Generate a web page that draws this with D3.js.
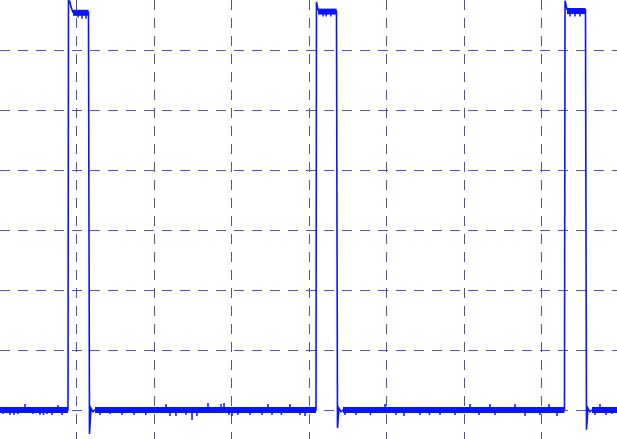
<!DOCTYPE html>
<html><head><meta charset="utf-8">
<script src="https://cdn.jsdelivr.net/npm/d3@7"></script>
<style>html,body{margin:0;padding:0;background:#fff;overflow:hidden}</style>
</head><body>
<svg id="c" width="617" height="439"></svg>
<script>
// time in divisions, voltage in divisions (1 V/div)
const timeTicks = [0,1,2,3,4,5,6,7,8];
const voltTicks = [-1,0,1,2,3,4,5,6,7];

// main waveform [t, v]
const traceT = [0,0.897,0.903,0.923,0.935,0.961,1.161,1.174,1.194,1.219,1.245,
  4.097,4.103,4.123,4.361,4.374,4.394,4.419,4.445,
  7.303,7.310,7.335,7.574,7.587,7.606,7.632,7.658,8.0];
const traceV = [0,0,6.83,6.80,6.72,6.63,6.63,-0.40,0.03,-0.03,0,
  0,6.80,6.67,6.65,-0.30,0.03,-0.03,0,
  0,6.82,6.68,6.67,-0.33,0.03,-0.03,0,0];

// noisy plateaus [t0, t1, level]
const plateauStart = [0,1.245,4.445,7.658,0.961,4.123,7.335];
const plateauEnd   = [0.897,4.097,7.303,8.0,1.161,4.361,7.574];
const plateauLevel = [0,0,0,0,6.62,6.64,6.65];

// glitches [t, v]
const spikeT = [0.058,0.148,0.200,0.252,0.342,0.445,0.535,0.580,0.626,0.690,0.768,0.819,
  1.310,1.439,1.594,1.750,1.900,2.161,2.213,2.290,2.419,2.497,2.561,2.703,2.871,2.910,2.974,3.013,3.090,3.245,3.400,3.477,3.529,3.650,3.761,3.890,3.955,
  4.471,4.613,4.800,4.987,5.129,5.232,5.439,5.560,5.697,5.890,6.084,6.200,6.342,6.406,6.665,6.794,6.987,7.103,7.206,
  7.697,7.761,7.839,7.916,
  1.026,1.077,1.129,4.187,4.226,4.290,7.374,7.439,7.503];
const spikeV = [-0.067,-0.083,-0.083,-0.067,0.10,-0.067,-0.083,-0.083,-0.067,-0.083,0.083,-0.083,
  -0.083,-0.067,-0.083,-0.083,-0.083,0.10,-0.10,-0.10,-0.083,-0.167,-0.10,0.117,0.10,0.117,-0.083,-0.10,-0.083,-0.083,-0.083,0.10,-0.083,-0.083,0.10,-0.083,-0.10,
  -0.083,-0.083,-0.083,0.10,-0.083,-0.10,-0.083,-0.083,-0.083,-0.083,0.10,-0.083,0.10,-0.083,0.10,-0.10,-0.083,0.10,-0.10,
  -0.083,0.10,-0.083,-0.067,
  6.54,6.52,6.52,6.56,6.56,6.56,6.56,6.56,6.56];
const spikeBase = spikeV.map(v => v > 3 ? 6.64 : 0);

const svg = d3.select('#c');
const x = d3.scaleLinear().domain([0,8]).range([-1.5,618.5]);
const y = d3.scaleLinear().domain([-1,7]).range([470,-10]);

// grid
svg.append('g').selectAll('line').data(voltTicks).join('line')
  .attr('x1',0).attr('x2',617).attr('y1',d=>y(d)).attr('y2',d=>y(d))
  .attr('stroke','#4f4fff').attr('stroke-width',1).attr('stroke-dasharray','10,8')
  .attr('shape-rendering','crispEdges');
svg.append('g').selectAll('line').data(timeTicks).join('line')
  .attr('y1',0).attr('y2',439).attr('x1',d=>Math.round(x(d))+0.5).attr('x2',d=>Math.round(x(d))+0.5)
  .attr('stroke','#4d5592').attr('stroke-width',1).attr('stroke-dasharray','10,8');

const blue = '#0a14ff';
// noisy plateau bands
svg.append('g').selectAll('line').data(plateauStart).join('line')
  .attr('x1',(d,i)=>x(plateauStart[i])).attr('x2',(d,i)=>x(plateauEnd[i]))
  .attr('y1',(d,i)=>y(plateauLevel[i])).attr('y2',(d,i)=>y(plateauLevel[i]))
  .attr('stroke',blue).attr('stroke-width',6);

// spikes
svg.append('g').selectAll('line').data(spikeT).join('line')
  .attr('x1',d=>x(d)).attr('x2',d=>x(d))
  .attr('y1',(d,i)=>y(spikeBase[i])).attr('y2',(d,i)=>y(spikeV[i]))
  .attr('stroke',blue).attr('stroke-width',1.5);

// main trace
const pts = traceT.map((t,i)=>[t,traceV[i]]);
svg.append('path').datum(pts)
  .attr('d', d3.line().x(d=>x(d[0])).y(d=>y(d[1])))
  .attr('fill','none').attr('stroke',blue).attr('stroke-width',1.6);
</script>
</body></html>
